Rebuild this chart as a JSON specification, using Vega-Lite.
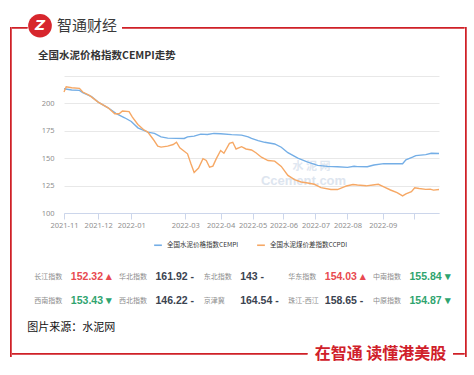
{
  "$schema": "https://vega.github.io/schema/vega-lite/v6.json",
  "background": "white",
  "padding": {"left": 10, "top": 13, "right": 0, "bottom": 10},
  "config": {
    "view": {"stroke": null},
    "font": "Noto Sans CJK SC",
    "concat": {"spacing": 0}
  },
  "spacing": 0,
  "resolve": {"scale": {"color": "independent"}, "legend": {"color": "independent"}},
  "hconcat": [
    {
      "width": 1.5, "height": 330,
      "data": {"values": [{}]},
      "mark": {"type": "rect", "color": "#cf2027"},
      "encoding": {},
      "view": {"fill": "#cf2027", "stroke": null}
    },
    {
      "spacing": 12,
      "resolve": {"scale": {"color": "independent"}, "legend": {"color": "independent"}},
      "vconcat": [
        {
          "spacing": 0,
          "hconcat": [
            {"width": 15.5, "height": 1.5, "data": {"values": [{}]}, "mark": {"type": "rect", "color": "#cf2027"}, "encoding": {}, "view": {"fill": "#cf2027", "stroke": null}},
            {
              "width": 24, "height": 1.5,
              "data": {"values": [{"logo": "Z"}]},
              "layer": [
                {"mark": {"type": "point", "shape": "circle", "filled": true, "size": 560, "color": "#d7262d", "opacity": 1, "yOffset": -2}, "encoding": {}},
                {"mark": {"type": "text", "color": "white", "fontSize": 14, "fontWeight": "bold", "fontStyle": "italic", "font": "DejaVu Sans", "yOffset": -2}, "encoding": {"text": {"field": "logo"}}}
              ]
            },
            {
              "width": 70, "height": 1.5,
              "data": {"values": [{"brand": "智通财经"}]},
              "mark": {"type": "text", "fontSize": 15, "color": "#3a3a3a", "font": "Noto Sans CJK SC", "yOffset": -2},
              "encoding": {"text": {"field": "brand"}}
            },
            {"width": 342.5, "height": 1.5, "data": {"values": [{}]}, "mark": {"type": "rect", "color": "#cf2027"}, "encoding": {}, "view": {"fill": "#cf2027", "stroke": null}}
          ]
        },
        {
          "spacing": 0,
          "resolve": {"scale": {"color": "independent"}, "legend": {"color": "independent"}},
          "hconcat": [
            {"width": 1, "height": 1, "data": {"values": [{}]}, "mark": {"type": "text", "text": ""}, "encoding": {}},
            {
              "spacing": 0,
              "resolve": {"scale": {"color": "independent"}, "legend": {"color": "independent"}},
              "vconcat": [
                {
                  "width": 375, "height": 137,
                  "title": {"text": "全国水泥价格指数CEMPI走势", "anchor": "start", "frame": "group", "dx": -26, "offset": 15, "fontSize": 10.5, "fontWeight": "bold", "color": "#333333", "font": "Noto Sans CJK SC"},
                  "layer": [
                    {
                      "data": {"values": [{"mark1": "水 泥 网", "mark2": "Ccement.com"}]},
                      "layer": [
                        {"mark": {"type": "text", "fontSize": 11, "fontWeight": "bold", "color": "#dfe7f1", "dx": 60, "dy": 22, "font": "Noto Sans CJK SC"}, "encoding": {"text": {"field": "mark1"}}},
                        {"mark": {"type": "text", "fontSize": 13, "fontWeight": "bold", "color": "#dde5ef", "dx": 52, "dy": 36, "font": "Liberation Sans"}, "encoding": {"text": {"field": "mark2"}}}
                      ]
                    },
                    {
                      "data": {"values": [
                        {"series": "全国水泥价格指数CEMPI", "pos": 0, "value": 213.4},
                        {"series": "全国水泥价格指数CEMPI", "pos": 7, "value": 212.2},
                        {"series": "全国水泥价格指数CEMPI", "pos": 14, "value": 211.9},
                        {"series": "全国水泥价格指数CEMPI", "pos": 17, "value": 209.8},
                        {"series": "全国水泥价格指数CEMPI", "pos": 25, "value": 206.1},
                        {"series": "全国水泥价格指数CEMPI", "pos": 31, "value": 201.2},
                        {"series": "全国水泥价格指数CEMPI", "pos": 40, "value": 196},
                        {"series": "全国水泥价格指数CEMPI", "pos": 47, "value": 190.9},
                        {"series": "全国水泥价格指数CEMPI", "pos": 55, "value": 186.9},
                        {"series": "全国水泥价格指数CEMPI", "pos": 61, "value": 183.5},
                        {"series": "全国水泥价格指数CEMPI", "pos": 67, "value": 177.7},
                        {"series": "全国水泥价格指数CEMPI", "pos": 76, "value": 173.8},
                        {"series": "全国水泥价格指数CEMPI", "pos": 82, "value": 172.6},
                        {"series": "全国水泥价格指数CEMPI", "pos": 88, "value": 169.5},
                        {"series": "全国水泥价格指数CEMPI", "pos": 94, "value": 168.3},
                        {"series": "全国水泥价格指数CEMPI", "pos": 109, "value": 168},
                        {"series": "全国水泥价格指数CEMPI", "pos": 112, "value": 169.5},
                        {"series": "全国水泥价格指数CEMPI", "pos": 118, "value": 170.1},
                        {"series": "全国水泥价格指数CEMPI", "pos": 124, "value": 172},
                        {"series": "全国水泥价格指数CEMPI", "pos": 130, "value": 171.6},
                        {"series": "全国水泥价格指数CEMPI", "pos": 136, "value": 172.6},
                        {"series": "全国水泥价格指数CEMPI", "pos": 142, "value": 172.3},
                        {"series": "全国水泥价格指数CEMPI", "pos": 152, "value": 171.5},
                        {"series": "全国水泥价格指数CEMPI", "pos": 161, "value": 171.1},
                        {"series": "全国水泥价格指数CEMPI", "pos": 167, "value": 169.5},
                        {"series": "全国水泥价格指数CEMPI", "pos": 170, "value": 168},
                        {"series": "全国水泥价格指数CEMPI", "pos": 176, "value": 166},
                        {"series": "全国水泥价格指数CEMPI", "pos": 182, "value": 164.5},
                        {"series": "全国水泥价格指数CEMPI", "pos": 191, "value": 163},
                        {"series": "全国水泥价格指数CEMPI", "pos": 197, "value": 160},
                        {"series": "全国水泥价格指数CEMPI", "pos": 203, "value": 155},
                        {"series": "全国水泥价格指数CEMPI", "pos": 212, "value": 150},
                        {"series": "全国水泥价格指数CEMPI", "pos": 221, "value": 146.4},
                        {"series": "全国水泥价格指数CEMPI", "pos": 230, "value": 143.4},
                        {"series": "全国水泥价格指数CEMPI", "pos": 239, "value": 142.5},
                        {"series": "全国水泥价格指数CEMPI", "pos": 248, "value": 142.2},
                        {"series": "全国水泥价格指数CEMPI", "pos": 257, "value": 141.6},
                        {"series": "全国水泥价格指数CEMPI", "pos": 263, "value": 142.6},
                        {"series": "全国水泥价格指数CEMPI", "pos": 266, "value": 142.3},
                        {"series": "全国水泥价格指数CEMPI", "pos": 275, "value": 142.2},
                        {"series": "全国水泥价格指数CEMPI", "pos": 281, "value": 143.8},
                        {"series": "全国水泥价格指数CEMPI", "pos": 290, "value": 145},
                        {"series": "全国水泥价格指数CEMPI", "pos": 299, "value": 145},
                        {"series": "全国水泥价格指数CEMPI", "pos": 307, "value": 145},
                        {"series": "全国水泥价格指数CEMPI", "pos": 310, "value": 148.5},
                        {"series": "全国水泥价格指数CEMPI", "pos": 316, "value": 150.9},
                        {"series": "全国水泥价格指数CEMPI", "pos": 319, "value": 152.4},
                        {"series": "全国水泥价格指数CEMPI", "pos": 328, "value": 153.3},
                        {"series": "全国水泥价格指数CEMPI", "pos": 333, "value": 154.5},
                        {"series": "全国水泥价格指数CEMPI", "pos": 340, "value": 154.3},
                        {"series": "全国水泥煤价差指数CCPDI", "pos": 0, "value": 210.4},
                        {"series": "全国水泥煤价差指数CCPDI", "pos": 2, "value": 215.2},
                        {"series": "全国水泥煤价差指数CCPDI", "pos": 7, "value": 214.3},
                        {"series": "全国水泥煤价差指数CCPDI", "pos": 14, "value": 213.7},
                        {"series": "全国水泥煤价差指数CCPDI", "pos": 17, "value": 210.4},
                        {"series": "全国水泥煤价差指数CCPDI", "pos": 23, "value": 207.3},
                        {"series": "全国水泥煤价差指数CCPDI", "pos": 31, "value": 201.2},
                        {"series": "全国水泥煤价差指数CCPDI", "pos": 40, "value": 196},
                        {"series": "全国水泥煤价差指数CCPDI", "pos": 46, "value": 190.5},
                        {"series": "全国水泥煤价差指数CCPDI", "pos": 50, "value": 190.5},
                        {"series": "全国水泥煤价差指数CCPDI", "pos": 53, "value": 193},
                        {"series": "全国水泥煤价差指数CCPDI", "pos": 59, "value": 192.5},
                        {"series": "全国水泥煤价差指数CCPDI", "pos": 62, "value": 187.5},
                        {"series": "全国水泥煤价差指数CCPDI", "pos": 67, "value": 180.8},
                        {"series": "全国水泥煤价差指数CCPDI", "pos": 72, "value": 176.2},
                        {"series": "全国水泥煤价差指数CCPDI", "pos": 76, "value": 173.8},
                        {"series": "全国水泥煤价差指数CCPDI", "pos": 81, "value": 167.1},
                        {"series": "全国水泥煤价差指数CCPDI", "pos": 85, "value": 161},
                        {"series": "全国水泥煤价差指数CCPDI", "pos": 88, "value": 160.1},
                        {"series": "全国水泥煤价差指数CCPDI", "pos": 94, "value": 161},
                        {"series": "全国水泥煤价差指数CCPDI", "pos": 99, "value": 162.5},
                        {"series": "全国水泥煤价差指数CCPDI", "pos": 102, "value": 164.6},
                        {"series": "全国水泥煤价差指数CCPDI", "pos": 105, "value": 159.5},
                        {"series": "全国水泥煤价差指数CCPDI", "pos": 109, "value": 156.4},
                        {"series": "全国水泥煤价差指数CCPDI", "pos": 112, "value": 154},
                        {"series": "全国水泥煤价差指数CCPDI", "pos": 115, "value": 145.1},
                        {"series": "全国水泥煤价差指数CCPDI", "pos": 118, "value": 137},
                        {"series": "全国水泥煤价差指数CCPDI", "pos": 122, "value": 141},
                        {"series": "全国水泥煤价差指数CCPDI", "pos": 126, "value": 149.6},
                        {"series": "全国水泥煤价差指数CCPDI", "pos": 129, "value": 148},
                        {"series": "全国水泥煤价差指数CCPDI", "pos": 132, "value": 141.8},
                        {"series": "全国水泥煤价差指数CCPDI", "pos": 135, "value": 142.8},
                        {"series": "全国水泥煤价差指数CCPDI", "pos": 138, "value": 149.4},
                        {"series": "全国水泥煤价差指数CCPDI", "pos": 142, "value": 157},
                        {"series": "全国水泥煤价差指数CCPDI", "pos": 145, "value": 154.5},
                        {"series": "全国水泥煤价差指数CCPDI", "pos": 150, "value": 163.6},
                        {"series": "全国水泥煤价差指数CCPDI", "pos": 153, "value": 164.5},
                        {"series": "全国水泥煤价差指数CCPDI", "pos": 156, "value": 158.4},
                        {"series": "全国水泥煤价差指数CCPDI", "pos": 161, "value": 160.5},
                        {"series": "全国水泥煤价差指数CCPDI", "pos": 165, "value": 158.4},
                        {"series": "全国水泥煤价差指数CCPDI", "pos": 170, "value": 157.5},
                        {"series": "全国水泥煤价差指数CCPDI", "pos": 174, "value": 155},
                        {"series": "全国水泥煤价差指数CCPDI", "pos": 179, "value": 150.9},
                        {"series": "全国水泥煤价差指数CCPDI", "pos": 185, "value": 147.9},
                        {"series": "全国水泥煤价差指数CCPDI", "pos": 191, "value": 147.3},
                        {"series": "全国水泥煤价差指数CCPDI", "pos": 197, "value": 142.5},
                        {"series": "全国水泥煤价差指数CCPDI", "pos": 203, "value": 134.3},
                        {"series": "全国水泥煤价差指数CCPDI", "pos": 209, "value": 130.4},
                        {"series": "全国水泥煤价差指数CCPDI", "pos": 215, "value": 128.3},
                        {"series": "全国水泥煤价差指数CCPDI", "pos": 221, "value": 127.4},
                        {"series": "全国水泥煤价差指数CCPDI", "pos": 227, "value": 126.2},
                        {"series": "全国水泥煤价差指数CCPDI", "pos": 233, "value": 123.2},
                        {"series": "全国水泥煤价差指数CCPDI", "pos": 242, "value": 121.4},
                        {"series": "全国水泥煤价差指数CCPDI", "pos": 248, "value": 121.4},
                        {"series": "全国水泥煤价差指数CCPDI", "pos": 254, "value": 123.8},
                        {"series": "全国水泥煤价差指数CCPDI", "pos": 256, "value": 124.6},
                        {"series": "全国水泥煤价差指数CCPDI", "pos": 262, "value": 126},
                        {"series": "全国水泥煤价差指数CCPDI", "pos": 266, "value": 125.5},
                        {"series": "全国水泥煤价差指数CCPDI", "pos": 274, "value": 124.8},
                        {"series": "全国水泥煤价差指数CCPDI", "pos": 280, "value": 125.6},
                        {"series": "全国水泥煤价差指数CCPDI", "pos": 285, "value": 126.2},
                        {"series": "全国水泥煤价差指数CCPDI", "pos": 290, "value": 123.8},
                        {"series": "全国水泥煤价差指数CCPDI", "pos": 296, "value": 121},
                        {"series": "全国水泥煤价差指数CCPDI", "pos": 302, "value": 118.5},
                        {"series": "全国水泥煤价差指数CCPDI", "pos": 307, "value": 115.6},
                        {"series": "全国水泥煤价差指数CCPDI", "pos": 310, "value": 117.5},
                        {"series": "全国水泥煤价差指数CCPDI", "pos": 315, "value": 119.5},
                        {"series": "全国水泥煤价差指数CCPDI", "pos": 318, "value": 123},
                        {"series": "全国水泥煤价差指数CCPDI", "pos": 322, "value": 122.3},
                        {"series": "全国水泥煤价差指数CCPDI", "pos": 328, "value": 121.6},
                        {"series": "全国水泥煤价差指数CCPDI", "pos": 332, "value": 121.8},
                        {"series": "全国水泥煤价差指数CCPDI", "pos": 335, "value": 120.9},
                        {"series": "全国水泥煤价差指数CCPDI", "pos": 340, "value": 121.5}
                      ]},
                      "mark": {"type": "line", "strokeWidth": 1.4},
                      "encoding": {
                        "x": {
                          "field": "pos", "type": "quantitative",
                          "scale": {"domain": [0, 340], "nice": false, "zero": false},
                          "axis": {
                            "title": null, "grid": false,
                            "values": [0, 31, 61, 110, 142, 171, 199, 228, 257, 289, 317],
                            "labelExpr": "datum.value==0?'2021-11':datum.value==31?'2021-12':datum.value==61?'2022-01':datum.value==110?'2022-03':datum.value==142?'2022-04':datum.value==171?'2022-05':datum.value==199?'2022-06':datum.value==228?'2022-07':datum.value==257?'2022-08':datum.value==289?'2022-09':''",
                            "domainColor": "#ccd6eb", "tickColor": "#ccd6eb", "tickSize": 6,
                            "labelFontSize": 7.5, "labelColor": "#8f8f8f", "labelFont": "Noto Sans", "labelPadding": 2, "labelAngle": 0, "labelOverlap": false, "labelFlush": false
                          }
                        },
                        "y": {
                          "field": "value", "type": "quantitative",
                          "scale": {"domain": [100, 225], "nice": false, "zero": false},
                          "axis": {
                            "title": null, "values": [100, 125, 150, 175, 200, 225],
                            "labelExpr": "datum.value==225?'':datum.label",
                            "domain": false, "ticks": false, "gridColor": "#e8e8e8",
                            "labelFontSize": 7.5, "labelColor": "#8f8f8f", "labelFont": "Noto Sans", "labelPadding": 10, "minExtent": 50.5
                          }
                        },
                        "color": {
                          "field": "series", "type": "nominal",
                          "scale": {"domain": ["全国水泥价格指数CEMPI", "全国水泥煤价差指数CCPDI"], "range": ["#74aee6", "#f6a865"]},
                          "legend": {
                            "title": null, "orient": "none", "legendX": 89, "legendY": 164, "direction": "horizontal", "symbolType": "stroke", "symbolStrokeWidth": 1.6, "symbolSize": 60,
                            "labelFontSize": 6.5, "labelColor": "#333333", "labelFont": "Noto Sans CJK SC", "columnPadding": 14
                          }
                        }
                      }
                    }
                  ]
                },
                {
                  "width": 375, "height": 60,
                  "title": {"text": "图片来源：水泥网", "orient": "bottom", "anchor": "start", "frame": "bounds", "dx": -7, "offset": 13, "fontSize": 11, "fontWeight": "normal", "color": "#111111", "font": "Noto Sans CJK SC"},
                  "data": {"values": [
                    {"region": "长江指数", "value": 152.32, "trend": "up", "arrow": "▴", "row": 1, "col": 0},
                    {"region": "华北指数", "value": 161.92, "trend": "flat", "arrow": "-", "row": 1, "col": 1},
                    {"region": "东北指数", "value": 143, "trend": "flat", "arrow": "-", "row": 1, "col": 2},
                    {"region": "华东指数", "value": 154.03, "trend": "up", "arrow": "▴", "row": 1, "col": 3},
                    {"region": "中南指数", "value": 155.84, "trend": "down", "arrow": "▾", "row": 1, "col": 4},
                    {"region": "西南指数", "value": 153.43, "trend": "down", "arrow": "▾", "row": 2, "col": 0},
                    {"region": "西北指数", "value": 146.22, "trend": "flat", "arrow": "-", "row": 2, "col": 1},
                    {"region": "京津冀", "value": 164.54, "trend": "flat", "arrow": "-", "row": 2, "col": 2},
                    {"region": "珠江-西江", "value": 158.65, "trend": "flat", "arrow": "-", "row": 2, "col": 3},
                    {"region": "中原指数", "value": 154.87, "trend": "down", "arrow": "▾", "row": 2, "col": 4}
                  ]},
                  "transform": [{"calculate": "datum.value + ' ' + datum.arrow", "as": "shown"}],
                  "encoding": {
                    "x": {"field": "col", "type": "quantitative", "scale": {"domain": [0.35, 4.78], "nice": false, "zero": false}, "axis": null},
                    "y": {"field": "row", "type": "quantitative", "scale": {"domain": [-0.15, 2.35], "reverse": true, "nice": false, "zero": false}, "axis": null}
                  },
                  "layer": [
                    {"mark": {"type": "text", "align": "left", "baseline": "middle", "fontSize": 7, "color": "#8c8c8c", "font": "Noto Sans CJK SC"}, "encoding": {"text": {"field": "region"}}},
                    {"mark": {"type": "text", "align": "left", "baseline": "middle", "dx": 36.5, "fontSize": 10.5, "fontWeight": "bold", "font": "Liberation Sans"},
                     "encoding": {
                       "text": {"field": "shown"},
                       "color": {"condition": [{"test": "datum.trend === 'up'", "value": "#e84a50"}, {"test": "datum.trend === 'down'", "value": "#2fa46f"}], "value": "#3b4350"}
                     }}
                  ]
                }
              ]
            }
          ]
        },
        {
          "spacing": 0,
          "hconcat": [
            {"width": 295.5, "height": 1.5, "data": {"values": [{}]}, "mark": {"type": "rect", "color": "#cf2027"}, "encoding": {}, "view": {"fill": "#cf2027", "stroke": null}},
            {
              "width": 145, "height": 1.5,
              "data": {"values": [{"slogan": "在智通  读懂港美股"}]},
              "mark": {"type": "text", "fontSize": 16, "fontWeight": "bold", "color": "#d0202a", "font": "Noto Sans CJK SC"},
              "encoding": {"text": {"field": "slogan"}}
            },
            {"width": 11.5, "height": 1.5, "data": {"values": [{}]}, "mark": {"type": "rect", "color": "#cf2027"}, "encoding": {}, "view": {"fill": "#cf2027", "stroke": null}}
          ]
        }
      ]
    },
    {
      "width": 1.5, "height": 330,
      "data": {"values": [{}]},
      "mark": {"type": "rect", "color": "#cf2027"},
      "encoding": {},
      "view": {"fill": "#cf2027", "stroke": null}
    }
  ]
}
